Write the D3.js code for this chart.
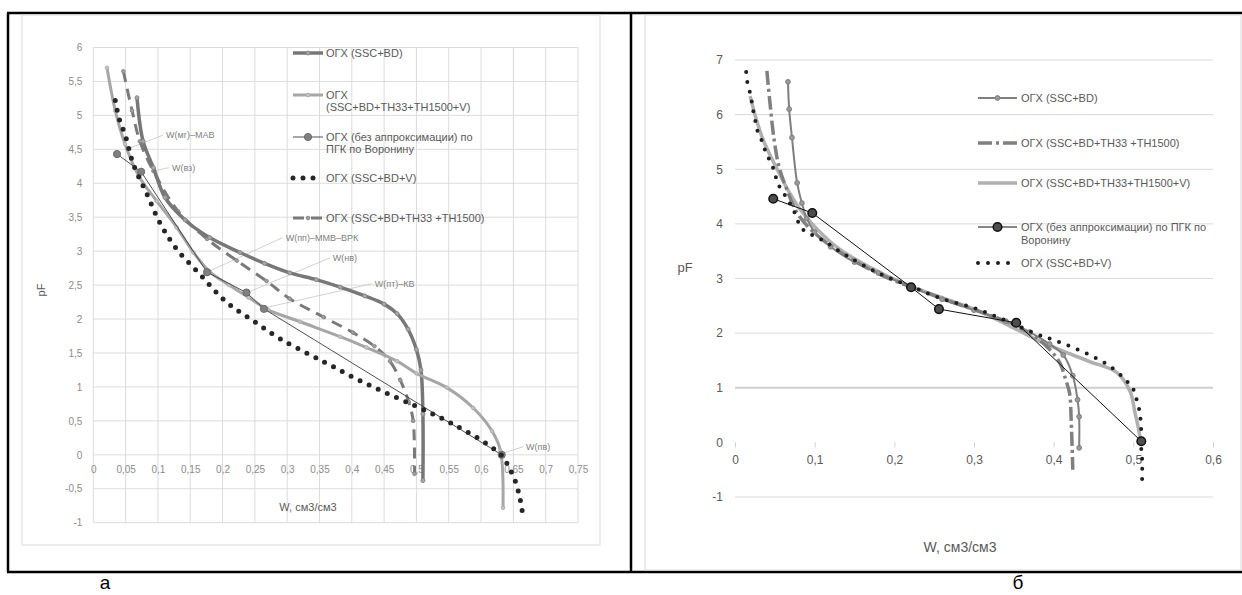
<!DOCTYPE html>
<html>
<head>
<meta charset="utf-8">
<script src="https://cdn.jsdelivr.net/npm/d3@7"></script>
<style>
    body { margin: 0; background: #ffffff; }
    svg { display: block; font-family: "Liberation Sans", Arial, sans-serif; }
</style>
</head>
<body>
<svg id="chart" width="1242" height="595"></svg>
<script>
// ---- panel "а" (left) ----
const leftXTicks = d3.range(0, 0.751, 0.05);
const leftYTicks = d3.range(-1, 6.01, 0.5);

// ОГХ (SSC+BD)
const leftSscBd = [[0.0676,5.26],[0.077,4.62],[0.093,4.23],[0.111,3.79],[0.142,3.46],[0.18,3.2],[0.227,2.98],[0.265,2.82],[0.304,2.68],[0.345,2.58],[0.382,2.47],[0.42,2.34],[0.45,2.22],[0.47,2.08],[0.487,1.85],[0.5,1.55],[0.507,1.25],[0.51,0.6],[0.51,-0.38]];
// ОГХ (SSC+BD+TH33+TH1500+V)
const leftFullV = [[0.0212,5.7],[0.034,5.07],[0.049,4.58],[0.072,4.08],[0.098,3.74],[0.129,3.35],[0.155,2.98],[0.18,2.7],[0.21,2.5],[0.24,2.32],[0.27,2.14],[0.32,1.96],[0.382,1.74],[0.423,1.58],[0.47,1.38],[0.5,1.2],[0.547,0.99],[0.588,0.69],[0.617,0.35],[0.63,0.06],[0.634,-0.78]];
// ОГХ (без аппроксимации) по ПГК по Воронину
const leftVoronin = [[0.0367,4.43],[0.074,4.17],[0.176,2.69],[0.237,2.39],[0.264,2.15],[0.632,0.0]];
// ОГХ (SSC+BD+V)
const leftSscBdV = [[0.034,5.22],[0.04,4.95],[0.049,4.72],[0.062,4.28],[0.083,3.84],[0.103,3.42],[0.129,3.03],[0.165,2.66],[0.206,2.25],[0.248,1.97],[0.289,1.71],[0.34,1.45],[0.371,1.3],[0.413,1.09],[0.47,0.84],[0.51,0.67],[0.557,0.45],[0.609,0.16],[0.635,-0.04],[0.643,-0.19],[0.65,-0.31],[0.66,-0.63],[0.665,-0.92]];
// ОГХ (SSC+BD+TH33 +TH1500)
const leftTh = [[0.0465,5.65],[0.06,5.07],[0.072,4.62],[0.093,4.18],[0.131,3.59],[0.176,3.18],[0.222,2.86],[0.268,2.56],[0.304,2.3],[0.356,2.03],[0.402,1.8],[0.435,1.6],[0.459,1.38],[0.475,1.1],[0.488,0.78],[0.495,0.5],[0.497,-0.28]];

// annotation text, the point it marks, and where the leader ends (data units)
const leftNotes = [
    { text: "W(мг)–МАВ", at: [0.049, 4.49], to: [0.108, 4.71] },
    { text: "W(вз)", at: [0.0925, 4.18], to: [0.117, 4.23] },
    { text: "W(пп)–ММВ–ВРК", at: [0.176, 2.69], to: [0.293, 3.2] },
    { text: "W(нв)", at: [0.238, 2.39], to: [0.366, 2.9] },
    { text: "W(пт)–КВ", at: [0.263, 2.16], to: [0.431, 2.52] },
    { text: "W(пв)", at: [0.632, 0.015], to: [0.665, 0.12] }
];

// ---- panel "б" (right) ----
const rightXTicks = d3.range(0, 0.61, 0.1);
const rightYTicks = d3.range(-1, 8, 1);

const rightSscBd = [[0.0665,6.6],[0.068,6.1],[0.0715,5.58],[0.078,4.75],[0.084,4.38],[0.09,4.1],[0.1,3.85],[0.12,3.58],[0.15,3.3],[0.18,3.1],[0.22,2.85],[0.26,2.62],[0.3,2.42],[0.34,2.22],[0.37,2.02],[0.395,1.8],[0.412,1.6],[0.424,1.22],[0.43,0.78],[0.432,0.47],[0.432,-0.1]];
const rightTh = [[0.04,6.8],[0.044,6.2],[0.049,5.55],[0.055,5.06],[0.065,4.63],[0.078,4.2],[0.095,3.9],[0.12,3.6],[0.15,3.32],[0.19,3.02],[0.23,2.8],[0.27,2.58],[0.31,2.38],[0.35,2.15],[0.375,1.95],[0.395,1.7],[0.408,1.45],[0.415,1.15],[0.42,0.9],[0.422,0.4],[0.424,-0.5]];
const rightFullV = [[0.019,6.34],[0.027,5.9],[0.035,5.55],[0.046,5.2],[0.057,4.88],[0.068,4.58],[0.08,4.3],[0.1,3.95],[0.13,3.55],[0.17,3.2],[0.21,2.92],[0.25,2.7],[0.307,2.4],[0.349,2.1],[0.383,1.85],[0.412,1.67],[0.445,1.48],[0.479,1.28],[0.496,0.93],[0.502,0.55],[0.506,0.29],[0.509,0.05]];
const rightVoronin = [[0.048,4.46],[0.097,4.2],[0.221,2.84],[0.256,2.44],[0.353,2.19],[0.51,0.02]];
const rightSscBdV = [[0.014,6.78],[0.016,6.55],[0.02,6.34],[0.022,6.13],[0.025,5.93],[0.028,5.71],[0.034,5.51],[0.039,5.3],[0.045,5.12],[0.05,4.94],[0.053,4.76],[0.06,4.59],[0.067,4.42],[0.073,4.27],[0.078,4.08],[0.085,3.9],[0.11,3.7],[0.14,3.42],[0.18,3.1],[0.22,2.86],[0.26,2.63],[0.3,2.46],[0.34,2.23],[0.379,1.98],[0.401,1.87],[0.424,1.74],[0.448,1.58],[0.47,1.4],[0.49,1.15],[0.5,0.97],[0.504,0.79],[0.508,0.55],[0.51,0.18],[0.51,-0.13],[0.511,-0.3],[0.511,-0.7]];

const svg = d3.select("#chart");
const locale = d3.formatLocale({ decimal: ",", thousands: " ", grouping: [3], currency: ["", ""], minus: "-" });
const fmt = locale.format("~g");
const smooth = d3.line().curve(d3.curveCatmullRom.alpha(0.5));
const straight = d3.line();

// outer frame
const frame = svg.append("g").attr("stroke", "#000").attr("stroke-width", 2.5);
frame.append("line").attr("x1", 7).attr("x2", 1242).attr("y1", 13).attr("y2", 13);
frame.append("line").attr("x1", 7).attr("x2", 1242).attr("y1", 572).attr("y2", 572);
frame.append("line").attr("x1", 8).attr("x2", 8).attr("y1", 13).attr("y2", 572);
frame.append("line").attr("x1", 631).attr("x2", 631).attr("y1", 13).attr("y2", 572);

svg.append("text").attr("x", 105).attr("y", 589).attr("text-anchor", "middle")
    .attr("font-size", 19).attr("fill", "#000").text("а");
svg.append("text").attr("x", 1018).attr("y", 589).attr("text-anchor", "middle")
    .attr("font-size", 19).attr("fill", "#000").text("б");

// draw a series path (+ optional markers)
function drawSeries(g, xs, ys, data, st) {
    const pts = data.map(d => [xs(d[0]), ys(d[1])]);
    g.append("path")
        .attr("d", (st.linear ? straight : smooth)(pts))
        .attr("fill", "none")
        .attr("stroke", st.color)
        .attr("stroke-width", st.width)
        .attr("stroke-dasharray", st.dash || null)
        .attr("stroke-linecap", st.cap || "butt")
        .attr("stroke-linejoin", "round");
    if (st.marker) {
        g.selectAll(null).data(pts).join("circle")
            .attr("cx", d => d[0]).attr("cy", d => d[1])
            .attr("r", st.marker.r)
            .attr("fill", st.marker.fill)
            .attr("stroke", st.marker.stroke)
            .attr("stroke-width", st.marker.sw || 1);
    }
}

// legend sample + text lines
function drawLegend(g, items, x0, x1, tx, fontSize) {
    items.forEach(it => {
        const st = it.style;
        g.append("line")
            .attr("x1", x0).attr("x2", x1).attr("y1", it.y).attr("y2", it.y)
            .attr("stroke", st.color).attr("stroke-width", st.width)
            .attr("stroke-dasharray", st.dash || null)
            .attr("stroke-linecap", st.cap || "butt");
        if (st.marker) {
            g.append("circle").attr("cx", (x0 + x1) / 2).attr("cy", it.y)
                .attr("r", st.marker.r).attr("fill", st.marker.fill)
                .attr("stroke", st.marker.stroke).attr("stroke-width", st.marker.sw || 1);
        }
        it.lines.forEach((t, i) => {
            g.append("text").attr("x", tx).attr("y", it.y + 4 + i * it.lh)
                .attr("font-size", fontSize).attr("fill", "#595959").text(t);
        });
    });
}

// ================= left panel =================
(function leftPanel() {
    const x = d3.scaleLinear([0, 0.75], [93.3, 578]);
    const y = d3.scaleLinear([-1, 6], [522.7, 47.5]);
    const g = svg.append("g");

    g.append("rect").attr("x", 22).attr("y", 15).attr("width", 578).attr("height", 530)
        .attr("fill", "none").attr("stroke", "#d9d9d9");

    // gridlines
    g.append("g").selectAll("line").data(leftXTicks).join("line")
        .attr("x1", d => x(d)).attr("x2", d => x(d))
        .attr("y1", y(6)).attr("y2", y(-1))
        .attr("stroke", "#dcdcdc").attr("stroke-width", 1);
    g.append("g").selectAll("line").data(leftYTicks).join("line")
        .attr("x1", x(0)).attr("x2", x(0.75))
        .attr("y1", d => y(d)).attr("y2", d => y(d))
        .attr("stroke", "#dcdcdc").attr("stroke-width", 1);

    // axes (labels only)
    const ax = g.append("g").attr("transform", `translate(0,${y(0)})`)
        .call(d3.axisBottom(x).tickValues(leftXTicks).tickFormat(fmt).tickSize(0).tickPadding(11));
    const ay = g.append("g").attr("transform", `translate(${x(0)},0)`)
        .call(d3.axisLeft(y).tickValues(leftYTicks).tickFormat(fmt).tickSize(0).tickPadding(11));
    [ax, ay].forEach(a => {
        a.select(".domain").remove();
        a.selectAll("text").attr("fill", "#8c8c8c").attr("font-size", 10)
            .attr("font-family", "\"Liberation Sans\", Arial, sans-serif");
    });

    g.append("text").attr("transform", "translate(45,290) rotate(-90)")
        .attr("text-anchor", "middle").attr("font-size", 11).attr("fill", "#595959").text("pF");
    g.append("text").attr("x", 308).attr("y", 511).attr("text-anchor", "middle")
        .attr("font-size", 11).attr("fill", "#595959").text("W, см3/см3");

    const styles = {
        sscBd:  { color: "#777777", width: 3.5, marker: { r: 2, fill: "#a8a8a8", stroke: "#8a8a8a" } },
        fullV:  { color: "#a6a6a6", width: 3, marker: { r: 1.8, fill: "#c4c4c4", stroke: "#b0b0b0" } },
        voron:  { color: "#3c3c3c", width: 0.9, linear: true, marker: { r: 3.6, fill: "#808080", stroke: "#6a6a6a" } },
        sscBdV: { color: "#262626", width: 5, dash: "0 10", cap: "round" },
        th:     { color: "#7a7a7a", width: 3, dash: "11 7", marker: { r: 1.8, fill: "#a0a0a0", stroke: "#8a8a8a" } }
    };

    // annotations
    leftNotes.forEach(n => {
        g.append("line")
            .attr("x1", x(n.at[0])).attr("y1", y(n.at[1]))
            .attr("x2", x(n.to[0])).attr("y2", y(n.to[1]))
            .attr("stroke", "#c4c4c4").attr("stroke-width", 0.8);
        g.append("text").attr("x", x(n.to[0]) + 3).attr("y", y(n.to[1]) + 3)
            .attr("font-size", 9).attr("fill", "#7f7f7f").text(n.text);
    });

    drawSeries(g, x, y, leftTh, styles.th);
    drawSeries(g, x, y, leftSscBd, styles.sscBd);
    drawSeries(g, x, y, leftFullV, styles.fullV);
    drawSeries(g, x, y, leftVoronin, styles.voron);
    drawSeries(g, x, y, leftSscBdV, styles.sscBdV);

    drawLegend(g, [
        { y: 53, lh: 12, lines: ["ОГХ (SSC+BD)"], style: styles.sscBd },
        { y: 95, lh: 12, lines: ["ОГХ", "(SSC+BD+TH33+TH1500+V)"], style: styles.fullV },
        { y: 137, lh: 12, lines: ["ОГХ (без аппроксимации) по", "ПГК по Воронину"], style: styles.voron },
        { y: 178, lh: 12, lines: ["ОГХ (SSC+BD+V)"], style: styles.sscBdV },
        { y: 218, lh: 12, lines: ["ОГХ (SSC+BD+TH33 +TH1500)"], style: styles.th }
    ], 293, 323, 326, 11);
})();

// ================= right panel =================
(function rightPanel() {
    const x = d3.scaleLinear([0, 0.6], [735, 1213]);
    const y = d3.scaleLinear([-1, 7], [497, 60]);
    const g = svg.append("g");

    g.append("rect").attr("x", 645).attr("y", 15).attr("width", 596).attr("height", 555)
        .attr("fill", "none").attr("stroke", "#d9d9d9");

    g.append("g").selectAll("line").data(rightYTicks.filter(d => d !== 0)).join("line")
        .attr("x1", x(0)).attr("x2", x(0.6))
        .attr("y1", d => y(d)).attr("y2", d => y(d))
        .attr("stroke", d => d === 1 ? "#cfcfcf" : "#d9d9d9")
        .attr("stroke-width", d => d === 1 ? 2 : 1);

    const ax = g.append("g").attr("transform", `translate(0,${y(0)})`)
        .call(d3.axisBottom(x).tickValues(rightXTicks).tickFormat(fmt).tickSize(5).tickPadding(8));
    ax.selectAll("line").attr("stroke", "#d0d0d0");
    const ay = g.append("g").attr("transform", `translate(${x(0)},0)`)
        .call(d3.axisLeft(y).tickValues(rightYTicks).tickFormat(fmt).tickSize(0).tickPadding(12));
    [ax, ay].forEach(a => {
        a.select(".domain").remove();
        a.selectAll("text").attr("fill", "#595959").attr("font-size", 12)
            .attr("font-family", "\"Liberation Sans\", Arial, sans-serif");
    });

    g.append("text").attr("x", 685).attr("y", 272).attr("text-anchor", "middle")
        .attr("font-size", 13).attr("fill", "#595959").text("pF");
    g.append("text").attr("x", 960).attr("y", 552).attr("text-anchor", "middle")
        .attr("font-size", 14).attr("fill", "#595959").text("W, см3/см3");

    const styles = {
        sscBd:  { color: "#7f7f7f", width: 2, marker: { r: 2.4, fill: "#9a9a9a", stroke: "#808080" } },
        th:     { color: "#808080", width: 3.5, dash: "14 4 3 4" },
        fullV:  { color: "#b0b0b0", width: 3.5 },
        voron:  { color: "#111111", width: 1, linear: true, marker: { r: 4.3, fill: "#4d4d4d", stroke: "#111111", sw: 1.5 } },
        sscBdV: { color: "#1f1f1f", width: 4, dash: "0 10", cap: "round" }
    };

    drawSeries(g, x, y, rightFullV, styles.fullV);
    drawSeries(g, x, y, rightTh, styles.th);
    drawSeries(g, x, y, rightSscBd, styles.sscBd);
    drawSeries(g, x, y, rightSscBdV, styles.sscBdV);
    drawSeries(g, x, y, rightVoronin, styles.voron);

    drawLegend(g, [
        { y: 98, lh: 13, lines: ["ОГХ (SSC+BD)"], style: styles.sscBd },
        { y: 143, lh: 13, lines: ["ОГХ (SSC+BD+TH33 +TH1500)"], style: styles.th },
        { y: 183, lh: 13, lines: ["ОГХ (SSC+BD+TH33+TH1500+V)"], style: styles.fullV },
        { y: 227, lh: 13, lines: ["ОГХ (без аппроксимации) по ПГК по", "Воронину"], style: styles.voron },
        { y: 263, lh: 13, lines: ["ОГХ (SSC+BD+V)"], style: styles.sscBdV }
    ], 978, 1017, 1021, 11);
})();
</script>
</body>
</html>
